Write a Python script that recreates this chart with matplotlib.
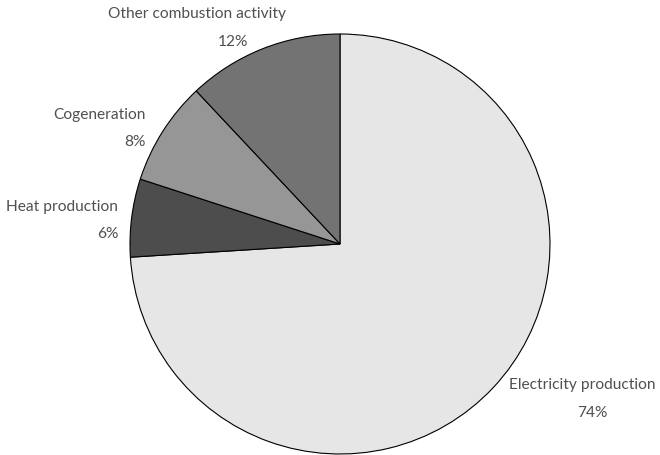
import matplotlib.pyplot as plt

# data
categories = ["Electricity production", "Heat production", "Cogeneration", "Other combustion activity"]
shares = [74, 6, 8, 12]
colors = ["#e6e6e6", "#4d4d4d", "#969696", "#737373"]

# label placement in pixel coords (x, y from top, alignment)
label_pos = [(582, 385, 592, 413, "center"),
             (118, 207, 118, 234, "right"),
             (146, 115, 146, 142, "right"),
             (197, 14, 233, 42, "center")]

W, H = 660, 455
fig = plt.figure(figsize=(W / 100, H / 100), dpi=100)
ax = fig.add_axes([0, 0, 1, 1])

ax.pie(shares, colors=colors, startangle=90, counterclock=False,
       center=(340, H - 244), radius=210, frame=True,
       wedgeprops=dict(edgecolor="black", linewidth=0.8))
ax.set_xlim(0, W)
ax.set_ylim(0, H)
ax.set_aspect("equal")
ax.axis("off")

for name, val, (lx, ly, px, py, ha) in zip(categories, shares, label_pos):
    ax.text(lx, H - ly, name, ha=ha, va="center", fontsize=11.2, color="#505050",
            family="Lato")
    ax.text(px, H - py, f"{val}%", ha=ha, va="center", fontsize=11.2, color="#505050",
            family="Lato")

fig.savefig("out.png", dpi=100)
